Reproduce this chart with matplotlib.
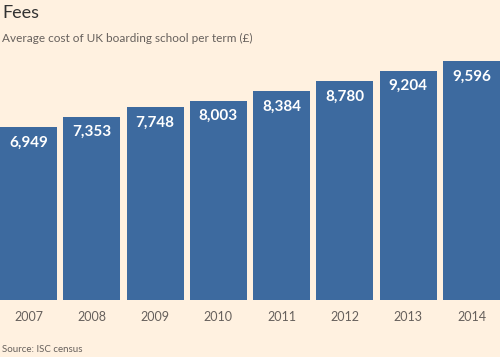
import matplotlib.pyplot as plt

# datos
anios = ['2007', '2008', '2009', '2010', '2011', '2012', '2013', '2014']
cuotas = [6949, 7353, 7748, 8003, 8384, 8780, 9204, 9596]

fondo = '#fff1e0'
azul = '#3d6a9f'
gris = '#66605c'

plt.rcParams['font.family'] = ['Lato', 'DejaVu Sans']

fig = plt.figure(figsize=(5, 3.57), dpi=100, facecolor=fondo)
ax = fig.add_axes([0, 57 / 357, 1, 249 / 357])
ax.set_facecolor(fondo)

x = range(len(anios))
barras = ax.bar(x, cuotas, width=0.9, color=azul)
ax.set_xlim(-0.45, len(anios) - 0.55)
ax.set_ylim(0, 10000)

for xi, v in zip(x, cuotas):
    ax.annotate(f'{v:,}', (xi, v), xytext=(0, -6), textcoords='offset points',
                ha='center', va='top', color='white', fontsize=11, fontweight='bold')

ax.set_xticks(list(x))
ax.set_xticklabels(anios, fontsize=9, color=gris)
ax.tick_params(axis='x', length=0, pad=8)
ax.set_yticks([])
for s in ax.spines.values():
    s.set_visible(False)

fig.text(0.004, 1 - 13 / 357, 'Fees', fontsize=13, color='#333333', va='center')
fig.text(0.004, 1 - 38 / 357, 'Average cost of UK boarding school per term (£)',
         fontsize=8.5, color=gris, va='center')
fig.text(0.004, 1 - 350 / 357, 'Source: ISC census', fontsize=7, color=gris, va='center')

fig.savefig('out.png', dpi=100, facecolor=fondo)
